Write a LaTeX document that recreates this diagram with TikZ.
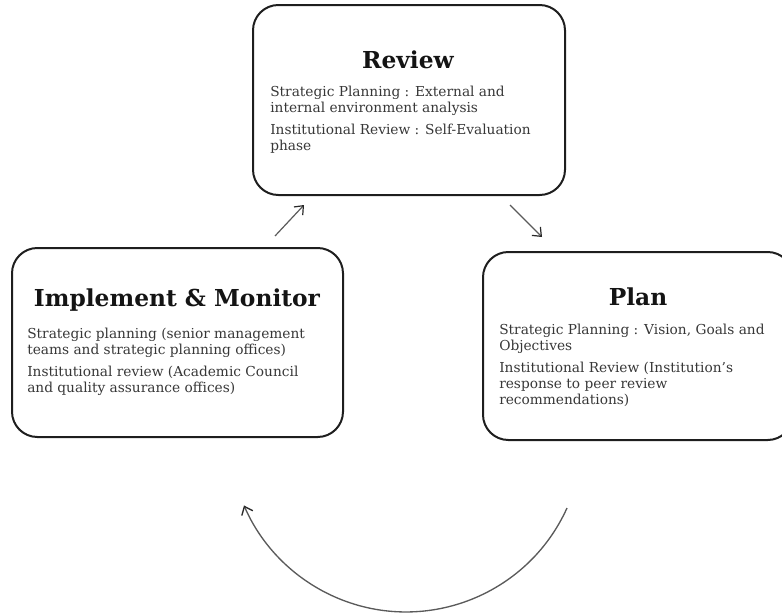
\documentclass[tikz,border=0pt]{standalone}
\usepackage{fontspec}
\setmainfont{DejaVu Serif}
\usetikzlibrary{arrows.meta}

\tikzset{
  stagebox/.style={draw={rgb,255:red,30;green,30;blue,30}, line width=1.5pt, rounded corners=19pt, inner sep=0pt},
  stagetitle/.style={inner sep=0pt, font=\fontsize{17.5}{20}\selectfont\bfseries, text={rgb,255:red,20;green,20;blue,20}},
  stagetext/.style={anchor=north west, inner sep=0pt, align=left, font=\fontsize{10.3}{12}\selectfont, text={rgb,255:red,55;green,55;blue,55}},
  cyclearrow/.style={draw={rgb,255:red,90;green,90;blue,90}, line width=0.9pt, -{Straight Barb[length=5.5pt,width=9pt,color={rgb,255:red,40;green,40;blue,40}]}}
}

\begin{document}
\begin{tikzpicture}[x=0.75pt,y=0.75pt,yscale=-1,xscale=1]
        \useasboundingbox (0,0) rectangle (782,614);

        %Rounded Rect
        \node [stagebox, minimum width=234pt, minimum height=142.5pt] (review) at (409,100) {};
        %Rounded Rect
        \node [stagebox, minimum width=248.25pt, minimum height=141.75pt] (implement) at (177.5,342.5) {};
        %Rounded Rect
        \node [stagebox, minimum width=232.5pt, minimum height=141pt] (plan) at (638,346) {};

        % Text Node
        \node [stagetitle] (reviewtitle) at (408,60) {Review};
        % Text Node
        \node [stagetext] (reviewtext) at (270,86) {Strategic Planning : External and\\ internal environment analysis\\[4pt] Institutional Review : Self-Evaluation\\ phase};
        % Text Node
        \node [stagetitle] (implementtitle) at (177,300) {Implement \& Monitor};
        % Text Node
        \node [stagetext] (implementtext) at (27,328) {Strategic planning (senior management\\ teams and strategic planning offices)\\[4pt] Institutional review (Academic Council\\ and quality assurance offices)};
        % Text Node
        \node [stagetitle] (plantitle) at (638,297) {Plan};
        % Text Node
        \node [stagetext] (plantext) at (499,324) {Strategic Planning : Vision, Goals and\\ Objectives\\[4pt] Institutional Review (Institution's\\ response to peer review\\ recommendations)};

        %Straight Lines
        \coordinate (upfrom) at (275,236);
        \coordinate (upto) at (304,205);
        \draw [cyclearrow] (upfrom) -- (upto);
        %Straight Lines
        \coordinate (downfrom) at (510,205);
        \coordinate (downto) at (542,237);
        \draw [cyclearrow] (downfrom) -- (downto);
        %Curve Lines
        \coordinate (loopfrom) at (567,508);
        \draw [cyclearrow, line width=1pt] (loopfrom) arc [start angle=24.3, end angle=156.6, radius=176.6];

\end{tikzpicture}
\end{document}
